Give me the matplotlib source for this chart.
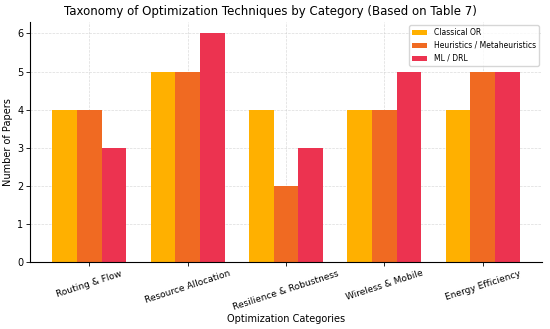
import matplotlib
matplotlib.use("Agg")
import matplotlib.pyplot as plt
import numpy as np

categories = ["Routing & Flow", "Resource Allocation", "Resilience & Robustness",
              "Wireless & Mobile", "Energy Efficiency"]
classical_or = [4, 5, 4, 4, 4]
heuristics = [4, 5, 2, 4, 5]
ml_drl = [3, 6, 3, 5, 5]
series_names = ["Classical OR", "Heuristics / Metaheuristics", "ML / DRL"]
colors = ["#FFB000", "#F06A22", "#EC3350"]

fig, ax = plt.subplots(figsize=(5.5, 3.29), dpi=100)
x = np.arange(len(categories))
w = 0.25
for i, (vals, name, c) in enumerate(zip([classical_or, heuristics, ml_drl], series_names, colors)):
    ax.bar(x + (i - 1) * w, vals, w, label=name, color=c, zorder=2)

ax.set_xticks(x)
ax.set_xticklabels(categories, rotation=18, fontsize=6.5)
ax.tick_params(axis="y", labelsize=7)
ax.tick_params(axis="both", length=3, width=0.6, pad=2)
ax.set_ylabel("Number of Papers", fontsize=7, labelpad=3)
ax.set_xlabel("Optimization Categories", fontsize=7, labelpad=2)
ax.set_title("Taxonomy of Optimization Techniques by Category (Based on Table 7)",
             fontsize=8.5, pad=5, x=0.47)
ax.grid(True, color="#cccccc", linestyle="--", linewidth=0.5, alpha=0.7, zorder=3)
for s in ["top", "right"]:
    ax.spines[s].set_visible(False)
ax.legend(fontsize=5.5, loc="upper right", handleheight=0.6, borderaxespad=0.4)
ax.set_xlim(-0.6, 4.6)
fig.subplots_adjust(left=0.055, right=0.985, top=0.933, bottom=0.204)
fig.savefig("out.png")
